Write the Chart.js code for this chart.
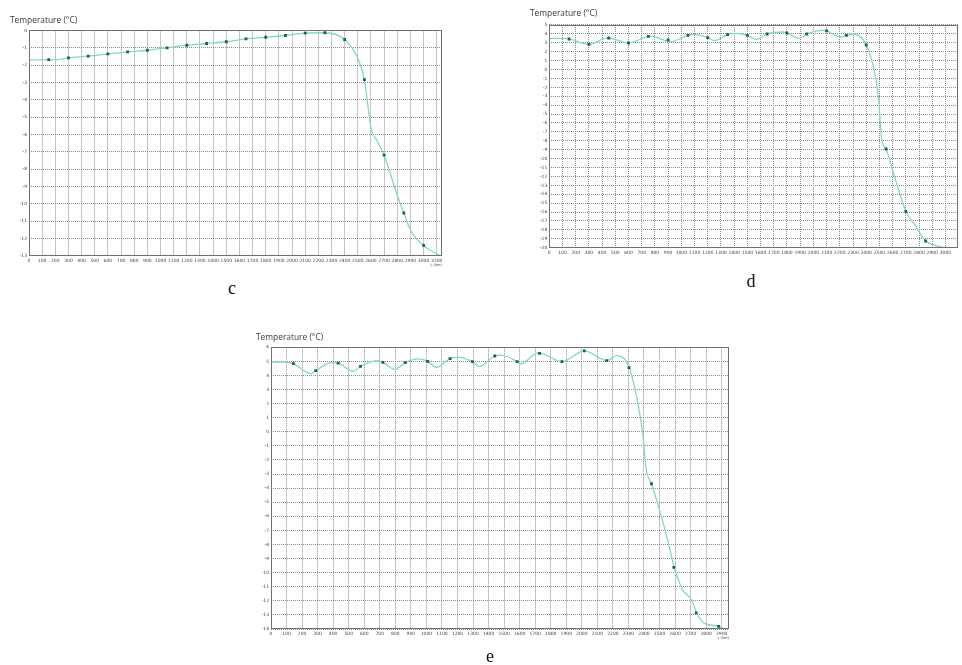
<!DOCTYPE html>
<html>
<head>
<meta charset="utf-8">
<script src="https://cdn.jsdelivr.net/npm/chart.js@4.4.0/dist/chart.umd.min.js"></script>
<style>
  body { margin: 0; background: #fff; width: 962px; height: 665px; position: relative; overflow: hidden; }
  .panel { position: absolute; }
  .cap { position: absolute; transform: translate(-50%, -50%); font-family: 'Liberation Serif', 'DejaVu Serif', serif; font-size: 18px; color: #111; }
</style>
</head>
<body>
<div class="panel" style="left:0px;top:0px;width:460px;height:275px"><canvas id="chartC"></canvas></div>
<div class="panel" style="left:520px;top:0px;width:442px;height:265px"><canvas id="chartD"></canvas></div>
<div class="panel" style="left:246px;top:320px;width:500px;height:330px"><canvas id="chartE"></canvas></div>
<div class="cap" style="left:232px;top:288px">c</div>
<div class="cap" style="left:751px;top:281px">d</div>
<div class="cap" style="left:490px;top:656px">e</div>

<script>
// ---- panel c ----
var xTicksC = [0,100,200,300,400,500,600,700,800,900,1000,1100,1200,1300,1400,1500,1600,1700,1800,1900,2000,2100,2200,2300,2400,2500,2600,2700,2800,2900,3000,3100];
var yTicksC = [0,-1,-2,-3,-4,-5,-6,-7,-8,-9,-10,-11,-12,-13];
var markXC = [150,300,450,600,750,900,1050,1200,1350,1500,1650,1800,1950,2100,2250,2400,2550,2700,2850,3000];
var markYC = [-1.68,-1.58,-1.48,-1.35,-1.23,-1.14,-1.0,-0.85,-0.75,-0.65,-0.48,-0.39,-0.29,-0.15,-0.13,-0.52,-2.83,-7.19,-10.52,-12.39];
var lineXC = [0,150,200,300,450,600,750,900,1050,1200,1350,1500,1650,1800,1950,2100,2250,2300,2400,2500,2550,2600,2650,2700,2800,2850,2900,3000,3120];
var lineYC = [-1.7,-1.68,-1.7,-1.58,-1.48,-1.35,-1.23,-1.14,-1.0,-0.85,-0.75,-0.65,-0.48,-0.39,-0.29,-0.15,-0.13,-0.16,-0.52,-1.6,-2.83,-5.6,-6.4,-7.19,-9.5,-10.52,-11.5,-12.39,-12.95];

// ---- panel d ----
var xTicksD = [0,100,200,300,400,500,600,700,800,900,1000,1100,1200,1300,1400,1500,1600,1700,1800,1900,2000,2100,2200,2300,2400,2500,2600,2700,2800,2900,3000];
var yTicksD = [5,4,3,2,1,0,-1,-2,-3,-4,-5,-6,-7,-8,-9,-10,-11,-12,-13,-14,-15,-16,-17,-18,-19,-20];
var markXD = [150,300,450,600,750,900,1050,1200,1350,1500,1650,1800,1950,2100,2250,2400,2550,2700,2850,3000];
var markYD = [3.43,2.83,3.54,2.98,3.73,3.32,3.84,3.58,3.91,3.84,3.99,4.10,3.99,4.33,3.84,2.75,-8.92,-15.92,-19.25,-20.04];
var lineXD = [0,118,150,300,440,600,768,918,1050,1093,1200,1250,1350,1418,1500,1568,1650,1768,1800,1893,1950,2068,2100,2205,2250,2305,2400,2468,2493,2518,2550,2618,2700,2768,2850,2918,3000];
var lineYD = [3.5,3.5,3.43,2.83,3.56,2.98,3.76,3.13,3.84,3.95,3.58,3.24,3.91,4.06,3.84,3.39,3.99,4.21,4.10,3.50,3.99,4.40,4.33,3.65,3.84,3.99,2.75,-0.61,-3.23,-7.9,-8.92,-12.2,-15.92,-17.45,-19.25,-19.7,-20.04];

// ---- panel e ----
var xTicksE = [0,100,200,300,400,500,600,700,800,900,1000,1100,1200,1300,1400,1500,1600,1700,1800,1900,2000,2100,2200,2300,2400,2500,2600,2700,2800,2900];
var yTicksE = [6,5,4,3,2,1,0,-1,-2,-3,-4,-5,-6,-7,-8,-9,-10,-11,-12,-13,-14];
var markXE = [144,288,432,576,720,864,1008,1152,1296,1440,1584,1728,1872,2016,2160,2304,2448,2592,2736,2880];
var markYE = [4.84,4.34,4.88,4.65,4.93,4.91,5.0,5.19,4.98,5.38,4.98,5.57,4.98,5.74,5.05,4.55,-3.69,-9.63,-12.86,-13.81];
var lineXE = [0,100,144,258,288,390,432,530,575,691,720,798,864,948,1008,1066,1152,1206,1296,1339,1440,1481,1584,1603,1721,1872,2017,2161,2225,2305,2365,2397,2412,2448,2500,2558,2594,2650,2708,2738,2794,2882,2912];
var lineYE = [4.95,4.95,4.84,4.12,4.34,4.91,4.88,4.29,4.65,5.05,4.93,4.43,4.91,5.17,5.0,4.57,5.19,5.29,4.98,4.65,5.38,5.45,4.98,4.81,5.6,4.98,5.74,5.05,5.41,4.55,1.77,-0.6,-2.5,-3.69,-5.54,-7.92,-9.63,-11.24,-11.96,-12.86,-13.62,-13.81,-14.0];

function pairs(xs, ys) {
    return xs.map(function (x, i) { return { x: x, y: ys[i] }; });
}

// solid frame round the plot area
var framePlugin = {
    id: 'frame',
    afterDraw: function (chart) {
        var a = chart.chartArea, ctx = chart.ctx;
        ctx.save();
        ctx.strokeStyle = '#707070';
        ctx.lineWidth = 1;
        ctx.strokeRect(Math.round(a.left) + 0.5, Math.round(a.top) + 0.5,
            Math.round(a.right - a.left) - 1, Math.round(a.bottom - a.top) - 1);
        ctx.restore();
    }
};

// plain numbers, no thousands separator
function plain(v) { return String(v); }

function makeChart(id, c) {
    var tickFont = { family: 'DejaVu Sans', size: 4.5 };
    return new Chart(document.getElementById(id), {
        type: 'scatter',
        data: {
            datasets: [
                {
                    label: 'curve',
                    data: pairs(c.lineX, c.lineY),
                    showLine: true,
                    borderColor: '#86d9b4',
                    borderWidth: 1.3,
                    pointRadius: 0,
                    cubicInterpolationMode: 'monotone',
                    order: 2
                },
                {
                    label: 'points',
                    data: pairs(c.markX, c.markY),
                    showLine: false,
                    pointStyle: 'rect',
                    pointRadius: 2,
                    backgroundColor: '#1b6540',
                    borderColor: '#1b6540',
                    borderWidth: 0,
                    order: 1
                }
            ]
        },
        options: {
            responsive: true,
            maintainAspectRatio: false,
            animation: false,
            layout: { padding: c.pad },
            plugins: {
                legend: { display: false },
                tooltip: { enabled: false },
                title: {
                    display: true,
                    text: 'Temperature (°C)',
                    align: 'start',
                    color: '#3a3a3a',
                    font: { family: 'Open Sans', size: 8.4, weight: 'normal' },
                    padding: { top: 0, bottom: c.titleGap }
                }
            },
            scales: {
                x: {
                    type: 'linear',
                    min: 0,
                    max: c.xMax,
                    afterBuildTicks: function (s) { s.ticks = c.xTicks.map(function (v) { return { value: v }; }); },
                    afterFit: function (s) { s.height = 14; },
                    grid: { color: '#8a8a8a', lineWidth: 1, drawTicks: false },
                    border: { display: false, dash: [1, 1] },
                    ticks: { font: tickFont, color: '#444', padding: 2.5, maxRotation: 0, autoSkip: false, callback: plain },
                    title: {
                        display: c.unit, text: 'L (km)', align: 'end', color: '#444',
                        font: { family: 'DejaVu Sans', size: 3.6 }, padding: { top: 0, bottom: 3 }
                    }
                },
                y: {
                    type: 'linear',
                    min: c.yMin,
                    max: c.yMax,
                    afterBuildTicks: function (s) { s.ticks = c.yTicks.map(function (v) { return { value: v }; }); },
                    afterFit: function (s) { s.width = c.yWidth; },
                    grid: { color: '#8a8a8a', lineWidth: 1, drawTicks: false },
                    border: { display: false, dash: [1, 1] },
                    ticks: { font: tickFont, color: '#444', padding: 2, autoSkip: false, callback: plain }
                }
            }
        },
        plugins: [framePlugin]
    });
}

makeChart('chartC', {
    lineX: lineXC, lineY: lineYC, markX: markXC, markY: markYC,
    xTicks: xTicksC, yTicks: yTicksC, xMax: 3140, yMin: -13, yMax: 0,
    pad: { left: 10, top: 15.9, right: 18, bottom: 5 }, titleGap: 4.5, yWidth: 19, unit: true
});
makeChart('chartD', {
    lineX: lineXD, lineY: lineYD, markX: markXD, markY: markYD,
    xTicks: xTicksD, yTicks: yTicksD, xMax: 3095, yMin: -20, yMax: 5,
    pad: { left: 10, top: 8.3, right: 0, bottom: 3.3 }, titleGap: 6.6, yWidth: 19.3, unit: false
});
makeChart('chartE', {
    lineX: lineXE, lineY: lineYE, markX: markXE, markY: markYE,
    xTicks: xTicksE, yTicks: yTicksE, xMax: 2947, yMin: -14, yMax: 6,
    pad: { left: 10, top: 13, right: 17, bottom: 7 }, titleGap: 4.2, yWidth: 15, unit: true
});
</script>
</body>
</html>
